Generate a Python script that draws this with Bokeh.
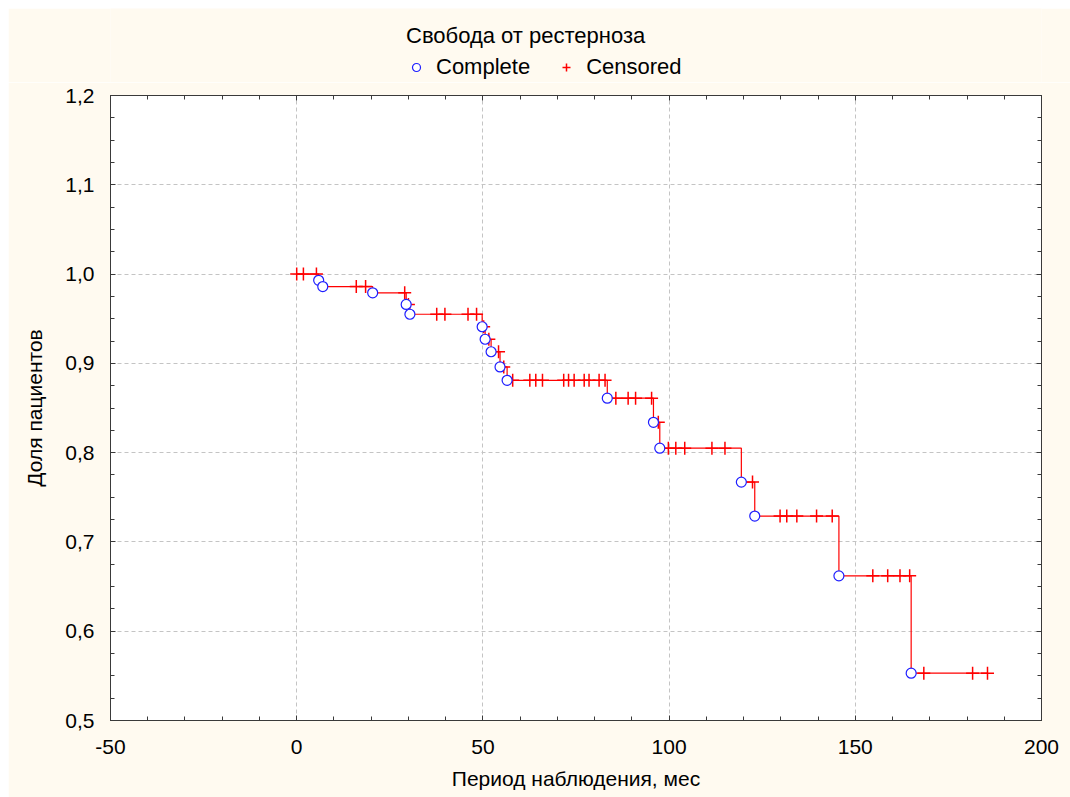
from bokeh.plotting import figure
from bokeh.layouts import column
from bokeh.models import (LinearAxis, FixedTicker, CustomJSTickFormatter, Legend,
                          LegendItem, ColumnDataSource, Range1d)
from bokeh.embed import file_html
from bokeh.resources import INLINE

# ---- data ----
title_text = "Свобода от рестерноза"
x_label = "Период наблюдения, мес"
y_label = "Доля пациентов"
x_ticks = [-50, 0, 50, 100, 150, 200]
y_ticks = [0.5, 0.6, 0.7, 0.8, 0.9, 1.0, 1.1, 1.2]

start_s = 1.0
event_t = [5.9, 7.0, 20.4, 29.4, 30.4, 49.8, 50.6, 52.2, 54.6, 56.5, 83.4,
           95.8, 97.5, 119.4, 123.0, 145.6, 165.0]
event_s = [0.993, 0.986, 0.979, 0.966, 0.955, 0.941, 0.927, 0.913, 0.896, 0.881,
           0.861, 0.834, 0.805, 0.767, 0.729, 0.662, 0.553]

cens_t = [0.0, 1.8, 5.3, 16.0, 18.5, 29.0, 30.0, 37.6, 39.8, 46.0, 48.3, 50.2,
          51.6, 54.2, 55.6, 58.0, 62.6, 64.2, 66.0, 71.7, 73.0, 74.5, 77.2, 78.5,
          81.2, 82.8, 85.7, 89.0, 91.0, 95.3, 97.1, 99.8, 101.8, 104.2, 111.5,
          115.0, 122.4, 129.8, 131.6, 134.3, 139.6, 143.8, 154.7, 158.7, 162.0,
          164.6, 168.4, 181.5, 185.5]
cens_s = [1.0, 1.0, 1.0, 0.986, 0.986, 0.979, 0.966, 0.955, 0.955, 0.955, 0.955,
          0.941, 0.927, 0.913, 0.896, 0.881, 0.881, 0.881, 0.881, 0.881, 0.881,
          0.881, 0.881, 0.881, 0.881, 0.881, 0.861, 0.861, 0.861, 0.861, 0.834,
          0.805, 0.805, 0.805, 0.805, 0.805, 0.767, 0.729, 0.729, 0.729, 0.729,
          0.729, 0.662, 0.662, 0.662, 0.662, 0.553, 0.553, 0.553]

FONT = "Liberation Sans"
CREAM = "#FFFAF0"
AXIS_COL = "#3a3a3a"
RED = "#ff0000"
BLUE = "#1e1eff"
NAN = float("nan")

# ---------------- main chart ----------------
p = figure(width=1062, height=715, output_backend="svg", toolbar_location=None,
           x_range=Range1d(-50, 200), y_range=Range1d(0.5, 1.2),
           min_border_left=102, min_border_right=29, min_border_top=13,
           min_border_bottom=77, x_axis_label=x_label, y_axis_label=y_label)
p.margin = (0, 0, 0, 8)
p.border_fill_color = CREAM
p.background_fill_color = "white"
p.outline_line_color = AXIS_COL
p.outline_line_width = 1

xt = FixedTicker(ticks=x_ticks, minor_ticks=list(range(-50, 201, 10)))
yt = FixedTicker(ticks=y_ticks, minor_ticks=[0.5 + 0.025 * i for i in range(29)])
fmt_y = CustomJSTickFormatter(code="return tick.toFixed(1).replace('.', ',');")
fmt_x = CustomJSTickFormatter(code="return tick.toFixed(0);")
fmt_none = CustomJSTickFormatter(code="return '';")

def style_axis(ax):
    ax.axis_line_color = AXIS_COL
    ax.major_tick_line_color = AXIS_COL
    ax.minor_tick_line_color = AXIS_COL
    ax.major_tick_in = 5
    ax.major_tick_out = 0
    ax.minor_tick_in = 4
    ax.minor_tick_out = 0
    ax.major_label_text_font = FONT
    ax.major_label_text_color = "black"
    ax.major_label_text_font_size = "21px"
    ax.axis_label_text_font = FONT
    ax.axis_label_text_font_style = "normal"
    ax.axis_label_text_color = "black"
    ax.axis_label_text_font_size = "21px"

for ax in p.xaxis:
    ax.ticker = xt
    ax.formatter = fmt_x
    style_axis(ax)
    ax.major_label_standoff = 19
    ax.axis_label_standoff = 10
for ax in p.yaxis:
    ax.ticker = yt
    ax.formatter = fmt_y
    style_axis(ax)
    ax.major_label_standoff = 16
    ax.axis_label_standoff = 16

top_ax = LinearAxis(ticker=xt, formatter=fmt_none)
style_axis(top_ax)
top_ax.major_label_standoff = 0
p.add_layout(top_ax, "above")
right_ax = LinearAxis(ticker=yt, formatter=fmt_none)
style_axis(right_ax)
right_ax.major_label_standoff = 0
p.add_layout(right_ax, "right")

p.xgrid.ticker = xt
p.ygrid.ticker = yt
for g in (p.xgrid[0], p.ygrid[0]):
    g.grid_line_color = "#c4c4c4"
    g.grid_line_dash = "4 3"
    g.grid_line_width = 1

# step curve built from the event data
step_x = [0.0] + event_t + [max(cens_t)]
step_y = [start_s] + event_s + [event_s[-1]]
p.step(step_x, step_y, mode="after", line_color=RED, line_width=1.2)

cens_src = ColumnDataSource(dict(t=cens_t, s=cens_s))
ev_src = ColumnDataSource(dict(t=event_t, s=event_s))
cr = p.scatter("t", "s", source=cens_src, marker="cross", size=13,
               line_color=RED, line_width=1.5)
ci = p.scatter("t", "s", source=ev_src, marker="circle", size=10,
               line_color=BLUE, fill_color="white", line_width=1.2)

# ---------------- legend strip above the chart ----------------
top = figure(width=1062, height=74, output_backend="svg", toolbar_location=None,
             x_axis_type=None, y_axis_type=None,
             x_range=Range1d(0, 1), y_range=Range1d(0, 1),
             min_border=0, min_border_left=0, min_border_right=0,
             min_border_top=0, min_border_bottom=0)
top.margin = (8, 0, 0, 8)
top.border_fill_color = CREAM
top.background_fill_color = CREAM
top.outline_line_color = None
top.xgrid.visible = False
top.ygrid.visible = False
# legend-only renderers (no visible points)
lci = top.scatter([NAN], [NAN], marker="circle", size=9, line_color=BLUE,
                  fill_color="white", line_width=1.2)
lcr = top.scatter([NAN], [NAN], marker="cross", size=13, line_color=RED,
                  line_width=1.5)

legend = Legend(items=[LegendItem(label="Complete", renderers=[lci]),
                       LegendItem(label="Censored", renderers=[lcr])],
                orientation="horizontal", location=(296, 2),
                title=title_text)
legend.title_text_font = FONT
legend.title_text_font_size = "22px"
legend.title_text_font_style = "normal"
legend.title_text_color = "black"
legend.title_standoff = 5
legend.label_text_font = FONT
legend.label_text_font_size = "22px"
legend.label_text_color = "black"
legend.label_standoff = 10
legend.glyph_width = 20
legend.glyph_height = 20
legend.spacing = 26
legend.padding = 0
legend.margin = 0
legend.background_fill_alpha = 0
legend.border_line_color = None
top.add_layout(legend, "center")

page = column(top, p, spacing=0)
open("out.html", "w").write(file_html(page, INLINE))
